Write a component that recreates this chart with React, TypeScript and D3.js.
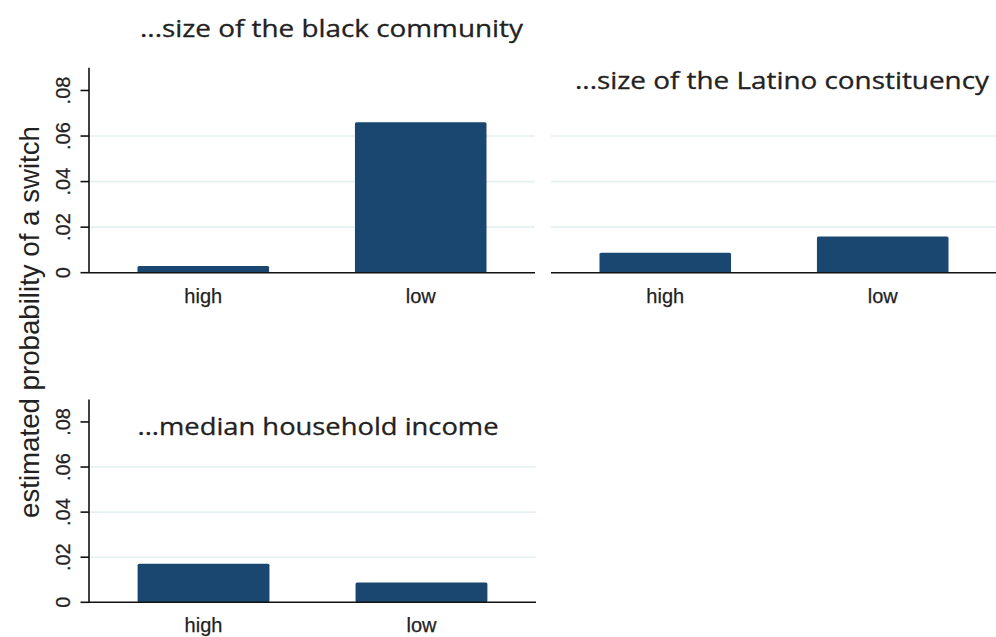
import React from "react";
import * as d3 from "d3";

const categories = ["high", "low"];
const blackValues = [0.0029, 0.0661];
const latinoValues = [0.0088, 0.0159];
const incomeValues = [0.0171, 0.0088];
const yTicks = [0, 0.02, 0.04, 0.06, 0.08];
const gridTicks = [0.02, 0.04, 0.06];
const tickLabel = (v: number) => (v === 0 ? "0" : d3.format(".2f")(v).replace(/^0/, ""));

const BAR = "#1a476f";
const GRID = "#e6eff1";
const TXT = "#222";
const SANS = "'Liberation Sans', Arial, sans-serif";
const TITLE_FONT = "'Open Sans', 'Noto Sans', sans-serif";

type PanelProps = {
  values: number[];
  x0: number;
  x1: number;
  yBottom: number;
  yTop: number;
  showAxis: boolean;
  title: string;
  titleX: number;
  titleY: number;
  titleLen: number;
};

function Panel({ values, x0, x1, yBottom, yTop, showAxis, title, titleX, titleY, titleLen }: PanelProps) {
  const x = d3.scaleBand<string>().domain(categories).range([x0, x1]).paddingInner(0.395).paddingOuter(0.223);
  const y = d3.scaleLinear().domain([0, 0.09]).range([yBottom, yTop]);
  return (
    <g>
      {gridTicks.map((t) => (
        <line key={t} x1={x0} x2={x1} y1={y(t)} y2={y(t)} stroke={GRID} strokeWidth={1.6} />
      ))}
      {values.map((v, i) => (
        <rect
          key={categories[i]}
          x={x(categories[i])}
          y={y(v)}
          width={x.bandwidth()}
          height={y(0) - y(v)}
          fill={BAR}
          rx={1.5}
        />
      ))}
      <line x1={x0} x2={x1} y1={y(0)} y2={y(0)} stroke="#111" strokeWidth={1.6} />
      {showAxis && (
        <g>
          <line x1={x0} x2={x0} y1={y(0)} y2={y(0.09)} stroke="#111" strokeWidth={1.6} />
          {yTicks.map((t) => (
            <g key={t}>
              <line x1={x0 - 8.5} x2={x0} y1={y(t)} y2={y(t)} stroke="#111" strokeWidth={1.6} />
              <text
                transform={`translate(${x0 - 19},${y(t)}) rotate(-90)`}
                textAnchor="middle"
                fontFamily={SANS}
                fontSize={20}
                fill={TXT}
                stroke={TXT}
                strokeWidth={0.25}
              >
                {tickLabel(t)}
              </text>
            </g>
          ))}
        </g>
      )}
      {categories.map((c) => (
        <text
          key={c}
          x={(x(c) as number) + x.bandwidth() / 2}
          y={y(0) + 30}
          textAnchor="middle"
          fontFamily={SANS}
          fontSize={20}
          fill={TXT}
          stroke={TXT}
          strokeWidth={0.25}
        >
          {c}
        </text>
      ))}
      <text
        x={titleX}
        y={titleY}
        textAnchor="middle"
        fontFamily={TITLE_FONT}
        fontSize={24}
        fill={TXT}
        stroke={TXT}
        strokeWidth={0.3}
        textLength={titleLen}
        lengthAdjust="spacingAndGlyphs"
      >
        {title}
      </text>
    </g>
  );
}

export default function App() {
  return (
    <svg
      width={996}
      height={637}
      style={{ position: "absolute", left: 0, top: 0, background: "#fff" }}
    >
      <rect width={996} height={637} fill="#fff" />
      <text
        transform="translate(39,322) rotate(-90)"
        textAnchor="middle"
        fontFamily={SANS}
        fontSize={28}
        fill={TXT}
        textLength={392}
        lengthAdjust="spacingAndGlyphs"
      >
        estimated probability of a switch
      </text>
      <Panel
        values={blackValues}
        x0={89}
        x1={535}
        yBottom={272.7}
        yTop={67.7}
        showAxis={true}
        title="...size of the black community"
        titleX={331.5}
        titleY={37}
        titleLen={383}
      />
      <Panel
        values={latinoValues}
        x0={551}
        x1={997}
        yBottom={272.7}
        yTop={67.7}
        showAxis={false}
        title="...size of the Latino constituency"
        titleX={782}
        titleY={89}
        titleLen={414}
      />
      <Panel
        values={incomeValues}
        x0={89}
        x1={536}
        yBottom={602.3}
        yTop={399.4}
        showAxis={true}
        title="...median household income"
        titleX={318}
        titleY={435}
        titleLen={361}
      />
    </svg>
  );
}
